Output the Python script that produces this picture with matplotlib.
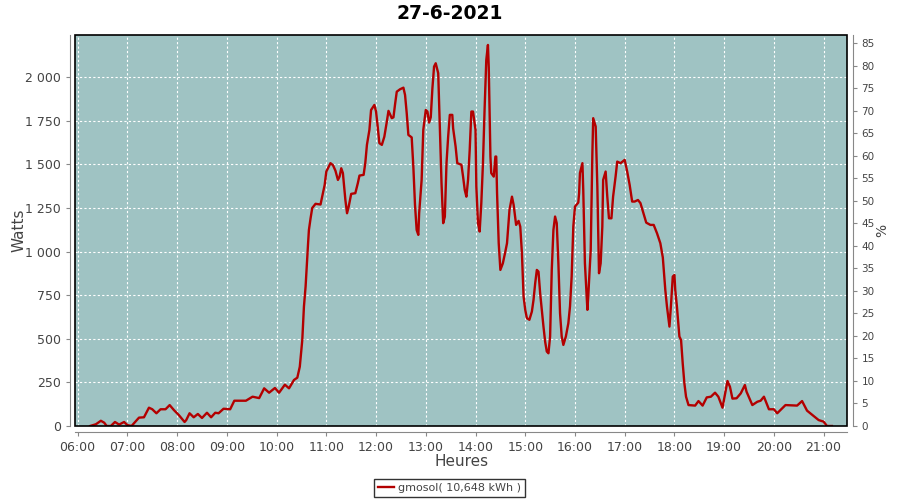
import matplotlib
matplotlib.use("Agg")
import matplotlib.pyplot as plt
from matplotlib.patches import Rectangle
from matplotlib.ticker import FuncFormatter, MultipleLocator, FixedLocator

# relevés de la journée (heure, watts)
heures = ["06:15", "06:22", "06:28", "06:32", "06:35", "06:40", "06:45", "06:50", "06:56", "07:00",
          "07:05", "07:14", "07:20", "07:26", "07:30", "07:35", "07:40", "07:46", "07:51", "07:56",
          "08:02", "08:09", "08:11", "08:15", "08:20", "08:25", "08:30", "08:36", "08:41", "08:46",
          "08:50", "08:56", "09:04", "09:09", "09:23", "09:31", "09:39", "09:45", "09:51", "09:58",
          "10:03", "10:10", "10:15", "10:21", "10:25", "10:28", "10:31", "10:33", "10:34", "10:35",
          "10:36", "10:38", "10:39", "10:41", "10:43", "10:47", "10:53", "10:55", "10:58", "11:00",
          "11:05", "11:08", "11:11", "11:14", "11:16", "11:18", "11:20", "11:23", "11:25", "11:27",
          "11:30", "11:35", "11:38", "11:40", "11:45", "11:47", "11:49", "11:52", "11:54", "11:58",
          "12:00", "12:02", "12:04", "12:07", "12:10", "12:13", "12:15", "12:19", "12:21", "12:23",
          "12:25", "12:29", "12:33", "12:35", "12:37", "12:39", "12:43", "12:45", "12:47", "12:49",
          "12:51", "12:52", "12:55", "12:57", "13:00", "13:02", "13:04", "13:06", "13:08", "13:10",
          "13:12", "13:15", "13:17", "13:19", "13:21", "13:23", "13:25", "13:27", "13:29", "13:32",
          "13:33", "13:36", "13:38", "13:43", "13:45", "13:47", "13:49", "13:51", "13:53", "13:55",
          "13:57", "14:00", "14:01", "14:03", "14:05", "14:07", "14:09", "14:11", "14:13", "14:15",
          "14:16", "14:18", "14:19", "14:22", "14:24", "14:25", "14:26", "14:28", "14:30", "14:33",
          "14:36", "14:38", "14:41", "14:44", "14:46", "14:49", "14:52", "14:54", "14:56", "14:58",
          "15:00", "15:02", "15:05", "15:08", "15:10", "15:12", "15:14", "15:16", "15:18", "15:20",
          "15:22", "15:24", "15:26", "15:28", "15:30", "15:32", "15:34", "15:36", "15:38", "15:40",
          "15:42", "15:44", "15:46", "15:49", "15:52", "15:54", "15:56", "15:58", "16:00", "16:04",
          "16:05", "16:06", "16:09", "16:10", "16:12", "16:15", "16:16", "16:19", "16:21", "16:22",
          "16:25", "16:27", "16:29", "16:31", "16:33", "16:34", "16:37", "16:39", "16:41", "16:44",
          "16:46", "16:49", "16:51", "16:55", "17:00", "17:03", "17:06", "17:09", "17:12", "17:16",
          "17:19", "17:22", "17:26", "17:31", "17:35", "17:39", "17:43", "17:46", "17:49", "17:51",
          "17:54", "17:56", "17:58", "18:00", "18:01", "18:03", "18:06", "18:08", "18:10", "18:12",
          "18:14", "18:17", "18:25", "18:29", "18:34", "18:39", "18:44", "18:49", "18:53", "18:58",
          "19:04", "19:07", "19:10", "19:15", "19:20", "19:25", "19:27", "19:34", "19:40", "19:44",
          "19:48", "19:54", "20:00", "20:04", "20:14", "20:28", "20:34", "20:40", "20:48", "20:54",
          "21:00", "21:04", "21:10"]
watts = [0, 10, 30, 19, 0, 0, 23, 8, 23, 5,
         0, 48, 50, 105, 96, 73, 96, 96, 120, 92,
         63, 23, 34, 73, 50, 69, 46, 76, 50, 76,
         73, 99, 96, 145, 145, 168, 160, 216, 191, 218,
         191, 237, 216, 264, 277, 340, 493, 685, 740, 800,
         885, 1048, 1124, 1191, 1250, 1274, 1270, 1315, 1382, 1459,
         1507, 1496, 1464, 1411, 1430, 1478, 1450, 1296, 1220, 1258,
         1331, 1335, 1392, 1436, 1440, 1507, 1612, 1698, 1812, 1841,
         1803, 1717, 1622, 1612, 1659, 1745, 1807, 1765, 1770, 1847,
         1917, 1931, 1940, 1898, 1794, 1669, 1655, 1487, 1268, 1124,
         1096, 1220, 1411, 1698, 1812, 1803, 1740, 1770, 1937, 2061,
         2080, 2023, 1717, 1392, 1163, 1200, 1507, 1659, 1784, 1784,
         1707, 1602, 1507, 1498, 1430, 1354, 1315, 1411, 1583, 1803,
         1803, 1698, 1373, 1163, 1115, 1278, 1507, 1822, 2099, 2185,
         2055, 1545, 1450, 1430, 1545, 1545, 1335, 1048, 895, 933,
         1000, 1048, 1239, 1315, 1268, 1153, 1176, 1143, 991, 742,
         666, 618, 609, 656, 723, 818, 895, 885, 761, 666,
         570, 484, 427, 417, 513, 895, 1124, 1201, 1163, 933,
         646, 513, 465, 513, 589, 685, 857, 1143, 1258, 1281,
         1335, 1450, 1507, 1354, 933, 666, 742, 1010, 1564, 1765,
         1717, 1373, 876, 933, 1143, 1411, 1459, 1315, 1191, 1191,
         1315, 1430, 1516, 1507, 1526, 1459, 1382, 1287, 1287, 1296,
         1278, 1230, 1166, 1153, 1153, 1105, 1048, 966, 780, 685,
         570, 704, 857, 866, 780, 685, 513, 493, 359, 245,
         168, 120, 117, 143, 117, 164, 168, 191, 168, 105,
         258, 225, 157, 159, 187, 235, 197, 120, 139, 145,
         168, 96, 96, 73, 120, 117, 143, 88, 57, 34,
         25, 0, 0]

titre = "27-6-2021"
legende = "gmosol( 10,648 kWh )"
ticks_watts = [0, 250, 500, 750, 1000, 1250, 1500, 1750, 2000]
puissance_crete = 2581  # W pour 100 %
watts_max = 2242

x = [int(h[:2]) + int(h[3:]) / 60 for h in heures]

fig = plt.figure(figsize=(9, 5), dpi=100)
ax = fig.add_axes([0.0837, 0.148, 0.8574, 0.782])
ax.set_facecolor("#9fc3c3")

ligne, = ax.plot(x, watts, color="#b30000", linewidth=1.7, zorder=3)

ax.set_xlim(5.953, 21.47)
ax.set_ylim(0, watts_max)
ax.xaxis.set_major_locator(MultipleLocator(1))
ax.xaxis.set_major_formatter(FuncFormatter(lambda v, p: "%02d:00" % round(v)))
ax.yaxis.set_major_locator(FixedLocator(ticks_watts))
ax.yaxis.set_major_formatter(FuncFormatter(lambda v, p: "{:,}".format(int(v)).replace(",", " ")))
ax.grid(True, color="white", linestyle=(0, (2, 2)), linewidth=0.8)

# cadre noir + axes gris décalés (style jfreechart)
ax.add_patch(Rectangle((0, 0), 1, 1, transform=ax.transAxes, fill=False,
                       edgecolor="black", linewidth=1.2, zorder=4, clip_on=False))
ax.spines["top"].set_visible(False)
ax.spines["right"].set_visible(False)
for s in ["left", "bottom"]:
    ax.spines[s].set_position(("outward", 4))
    ax.spines[s].set_color("#888888")
ax.tick_params(colors="#444444", labelsize=9, length=3, width=0.8)
ax.tick_params(axis="both", color="#888888")

ax.set_xlabel("Heures", fontsize=11, color="#444444")
ax.set_ylabel("Watts", fontsize=11, color="#444444")
ax.xaxis.set_label_coords(0.5, -0.072)
ax.yaxis.set_label_coords(-0.0635, 0.5)

# axe des pourcentages
ax2 = ax.twinx()
ax2.set_ylim(0, watts_max / puissance_crete * 100)
ax2.yaxis.set_major_locator(MultipleLocator(5))
ax2.tick_params(colors="#444444", labelsize=7.5, length=3, width=0.8)
ax2.tick_params(axis="y", color="#888888")
for s in ["left", "top", "bottom"]:
    ax2.spines[s].set_visible(False)
ax2.spines["right"].set_position(("outward", 4))
ax2.spines["right"].set_color("#888888")
ax2.set_ylabel("%", fontsize=10, color="#444444")
ax2.yaxis.set_label_coords(1.036, 0.5)

fig.text(0.5, 0.973, titre, fontsize=13.5, fontweight="bold", ha="center", va="center")

leg = fig.legend([ligne], [legende], loc="center", bbox_to_anchor=(0.4992, 0.0245),
                 fontsize=8, frameon=True, fancybox=False, edgecolor="black",
                 handlelength=1.5, handletextpad=0.3, borderpad=0.35, borderaxespad=0)
leg.get_frame().set_linewidth(1.0)
for t in leg.get_texts():
    t.set_color("#444444")

plt.savefig("out.png", dpi=100)
